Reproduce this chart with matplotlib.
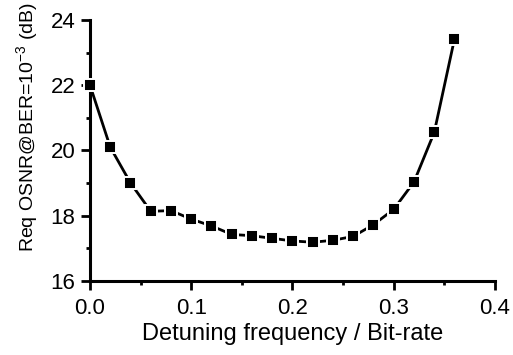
import numpy as np
import matplotlib
matplotlib.use('Agg')
import matplotlib.pyplot as plt
from matplotlib.ticker import MultipleLocator

plt.rcParams['font.family'] = ['Liberation Sans', 'DejaVu Sans']
plt.rcParams['mathtext.fontset'] = 'custom'
plt.rcParams['mathtext.rm'] = 'Liberation Sans'
plt.rcParams['mathtext.it'] = 'Liberation Sans:italic'

# detuning / bit-rate vs required OSNR (dB)
detuning = [0.00, 0.02, 0.04, 0.06, 0.08, 0.10, 0.12, 0.14, 0.16, 0.18,
            0.20, 0.22, 0.24, 0.26, 0.28, 0.30, 0.32, 0.34, 0.36]
req_osnr = [22.0, 20.1, 19.0, 18.13, 18.15, 17.89, 17.68, 17.42, 17.38, 17.30,
            17.22, 17.18, 17.24, 17.36, 17.72, 18.19, 19.03, 20.55, 23.42]

fig = plt.figure(figsize=(5.13, 3.55), dpi=100)
ax = fig.add_axes([0.1754, 0.2093, 0.7895, 0.7344])

ax.plot(detuning, req_osnr, color='black', linewidth=2, marker='s',
        markersize=8, markerfacecolor='black', markeredgecolor='white',
        markeredgewidth=1.4, clip_on=False, zorder=3)

ax.set_xlim(0, 0.4)
ax.set_ylim(16, 24)
ax.xaxis.set_major_locator(MultipleLocator(0.1))
ax.xaxis.set_minor_locator(MultipleLocator(0.05))
ax.yaxis.set_major_locator(MultipleLocator(2))
ax.yaxis.set_minor_locator(MultipleLocator(1))

for s in ['top', 'right']:
    ax.spines[s].set_visible(False)
for s in ['left', 'bottom']:
    ax.spines[s].set_linewidth(2.2)

ax.tick_params(which='major', direction='out', length=6.5, width=2,
               labelsize=16)
ax.tick_params(axis='x', which='major', pad=6)
ax.tick_params(axis='y', which='major', pad=4)
ax.tick_params(which='minor', direction='out', length=3.2, width=2)

ax.set_xlabel('Detuning frequency / Bit-rate', fontsize=17, labelpad=3)
ax.set_ylabel('Req OSNR@BER=10$^{-3}$ (dB)', fontsize=14)
ax.yaxis.set_label_coords(-0.123, 0.59)

fig.savefig('out.png', dpi=100)
